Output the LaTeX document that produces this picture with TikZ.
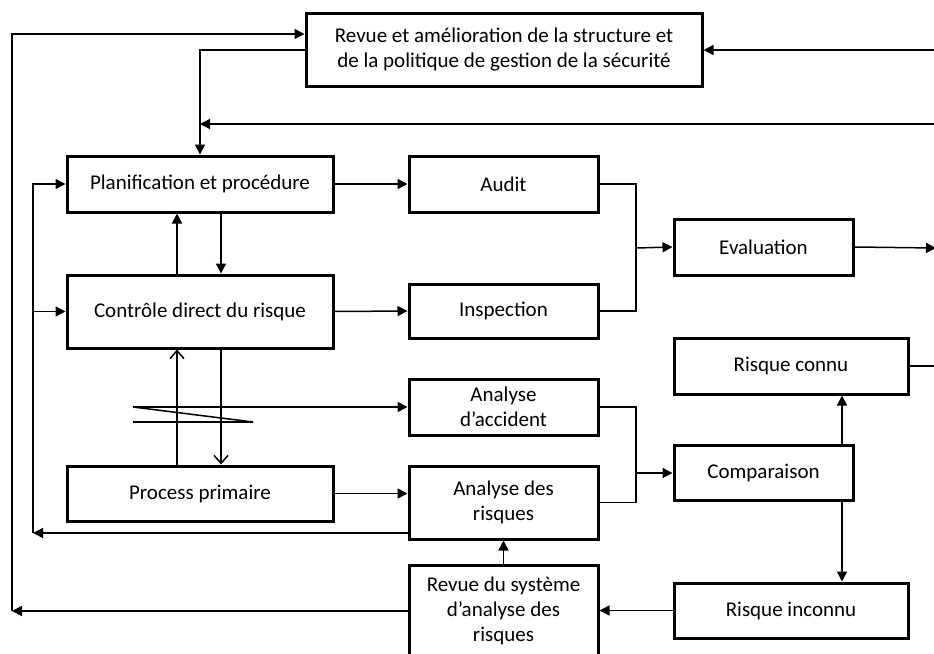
\documentclass[tikz,border=0pt]{standalone}
\usepackage{fontspec}
\setmainfont{Carlito}
\usetikzlibrary{arrows.meta}
\begin{document}
\begin{tikzpicture}[x=1pt,y=-1pt,
  box/.style={draw,line width=3pt,inner sep=0pt,align=center,
    font=\fontsize{21}{25}\selectfont},
  conn/.style={line width=1.5pt},
  arr/.style={conn,-{Triangle[length=10pt,width=10pt]}},
  oarr/.style={conn,-{Straight Barb[length=8pt,width=14pt,line width=1.5pt]}}]
\clip (0,0) rectangle (934,653);
\useasboundingbox (0,0) rectangle (934,653);
% boxes
\node[box,minimum width=396pt,minimum height=73pt] (revue) at (504,49.5)
  {Revue et amélioration de la structure et\\de la politique de gestion de la sécurité};
\node[box,minimum width=266pt,minimum height=56pt] (plan) at (200,184) {Planification et procédure};
\node[box,minimum width=266pt,minimum height=73pt] (ctrl) at (200,311.5) {Contrôle direct du risque};
\node[box,minimum width=266pt,minimum height=55pt] (proc) at (200,493.5) {Process primaire};
\node[box,minimum width=189pt,minimum height=56pt] (audit) at (503.5,184) {Audit};
\node[box,minimum width=189pt,minimum height=54pt] (insp) at (503.5,311) {Inspection};
\node[box,minimum width=189pt,minimum height=56pt] (acc) at (503.5,407) {Analyse\\d’accident};
\node[box,minimum width=189pt,minimum height=73pt] (anr) at (503.5,502.5) {Analyse des\\risques};
\node[box,minimum width=189pt,minimum height=92pt] (rsys) at (503.5,611) {Revue du système\\d’analyse des\\risques};
\node[box,minimum width=179pt,minimum height=56pt] (eval) at (763.5,247) {Evaluation};
\node[box,minimum width=234pt,minimum height=56pt] (rconnu) at (791,366) {Risque connu};
\node[box,minimum width=179pt,minimum height=55pt] (comp) at (763.5,472.5) {Comparaison};
\node[box,minimum width=234pt,minimum height=55pt] (rinc) at (791,610.5) {Risque inconnu};
% free-end coordinates
\coordinate (L1) at (12,611);
\coordinate (L2) at (33,533);
\coordinate (R1) at (934,50);
\coordinate (R2) at (934,124);
\coordinate (R3) at (936,248);
\coordinate (R4) at (934,366);
\coordinate (J1) at (636,248);
\coordinate (J2) at (636,473);
\coordinate (Z1) at (133,407);
\coordinate (Z2) at (253,422);
\coordinate (Z3) at (133,422);
% outer loops
\draw[arr] (rsys.west |- L1) -- (L1);
\draw[arr] (L1) -- (12,34) -- (revue.west |- 0,34);
\draw[arr] (anr.west |- L2) -- (L2);
\draw[arr] (L2) -- (33,184) -- (plan.west);
\draw[arr] (33,311.5) -- (ctrl.west);
% top
\draw[arr] (revue.west |- 0,50) -- (200,50) -- (plan.north);
\draw[arr] (R2) -- (200,124);
\draw[arr] (R1) -- (revue.east |- R1);
% plan / controle
\draw[arr] (plan.east) -- (audit.west);
\draw[arr] (ctrl.north -| 177,0) -- (plan.south -| 177,0);
\draw[arr] (plan.south -| 221,0) -- (ctrl.north -| 221,0);
\draw[arr] (ctrl.east) -- (insp.west);
% audit/inspection -> evaluation
\draw[conn] (audit.east) -| (J1) |- (insp.east);
\draw[arr] (J1) -- (eval.west);
\draw[arr] (eval.east) -- (R3);
% controle / process
\draw[oarr] (proc.north -| 177,0) -- (ctrl.south -| 177,0);
\draw[oarr] (ctrl.south -| 221,0) -- (proc.north -| 221,0);
% zigzag
\draw[arr] (Z1) -- (acc.west |- Z1);
\draw[conn] (Z1) -- (Z2);
\draw[conn] (Z3) -- (Z2);
% analyses -> comparaison
\draw[conn] (acc.east) -| (J2) |- (anr.east);
\draw[arr] (J2) -- (comp.west |- J2);
\draw[arr] (proc.east) -- (anr.west |- proc.east);
% lower right
\draw[arr] (rsys.north) -- (anr.south);
\draw[arr] (rinc.west) -- (rsys.east |- rinc.west);
\draw[arr] (comp.south -| 842,0) -- (rinc.north -| 842,0);
\draw[arr] (comp.north -| 842,0) -- (rconnu.south -| 842,0);
\draw[conn] (rconnu.east) -- (R4);
\end{tikzpicture}
\end{document}
